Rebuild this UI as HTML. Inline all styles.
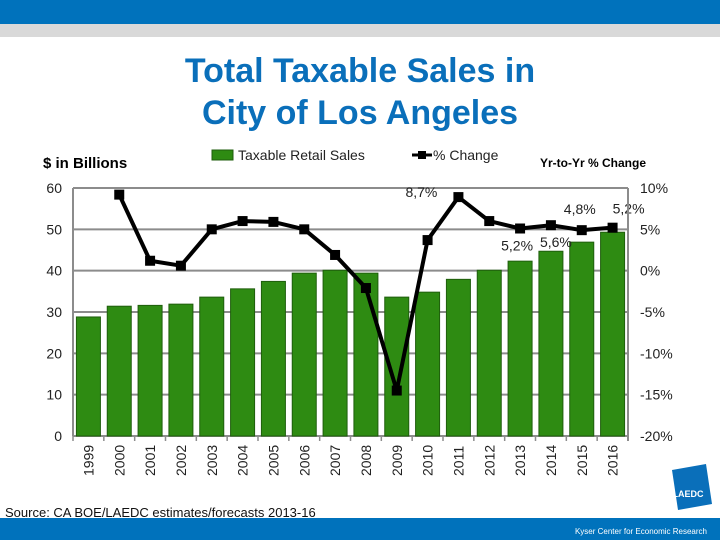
<!DOCTYPE html>
<html><head><meta charset="utf-8"><style>
html,body{margin:0;padding:0;background:#fff;width:720px;height:540px;overflow:hidden}
svg{display:block;font-family:"Liberation Sans",Arial,sans-serif}
</style></head><body>
<svg id="chart" width="720" height="540" viewBox="0 0 720 540" xmlns="http://www.w3.org/2000/svg">
<rect x="0" y="0" width="720" height="24" fill="#0072bc"/>
<rect x="0" y="24" width="720" height="13" fill="#d9d9d9"/>
<text x="360" y="82" text-anchor="middle" font-size="34" font-weight="bold" fill="#0a6fba">Total Taxable Sales in</text>
<text x="360" y="124" text-anchor="middle" font-size="34" font-weight="bold" fill="#0a6fba">City of Los Angeles</text>
<text x="43" y="168" font-size="15" font-weight="bold">$ in Billions</text>
<text x="540" y="167" font-size="12" font-weight="bold">Yr-to-Yr % Change</text>
<g>
<rect x="212" y="150" width="21" height="10" fill="#2e8b12" stroke="#1f5e0c"/>
<text x="238" y="160" font-size="14" fill="#222">Taxable Retail Sales</text>
<line x1="412" y1="155" x2="432" y2="155" stroke="#000" stroke-width="3"/>
<rect x="418" y="151" width="8" height="8" fill="#000"/>
<text x="433" y="160" font-size="14" fill="#222">% Change</text>
</g>
<g id="grid"></g><g id="bars"></g><g id="line"></g><g id="axes"></g>
<text x="5" y="517" font-size="13" fill="#111">Source: CA  BOE/LAEDC  estimates/forecasts  2013-16</text>
<g><polygon points="672,470 706,464 712,504 678,510" fill="#0a6fba"/><text x="688" y="497" text-anchor="middle" font-size="9" font-weight="bold" fill="#fff">LAEDC</text></g>
<rect x="0" y="518" width="720" height="22" fill="#0072bc"/>
<text x="707" y="534" text-anchor="end" font-size="8" fill="#fff">Kyser Center for Economic Research</text>
</svg>
<script>
const years=["1999","2000","2001","2002","2003","2004","2005","2006","2007","2008","2009","2010","2011","2012","2013","2014","2015","2016"];
const sales=[28.8,31.4,31.6,31.9,33.6,35.6,37.4,39.4,40.1,39.4,33.6,34.8,37.9,40.1,42.3,44.7,46.9,49.3];
const pctChange=[null,9.2,1.2,0.6,5.0,6.0,5.9,5.0,1.9,-2.1,-14.5,3.7,8.9,6.0,5.1,5.5,4.9,5.2];
const leftTicks=[0,10,20,30,40,50,60];
const rightTicks=[10,5,0,-5,-10,-15,-20];
const rightTickLabels=["10%","5%","0%","-5%","-10%","-15%","-20%"];
const pointLabels=[[12,"8,7%"],[14,"5,2%"],[15,"5,6%"],[16,"4,8%"],[17,"5,2%"]];
const NS="http://www.w3.org/2000/svg";
const X0=73,X1=628,Y0=436,Y1=188;
const band=(X1-X0)/years.length;
const xc=i=>X0+band*(i+0.5);
const yL=v=>Y0-(v/60)*(Y0-Y1);
const yR=v=>Y0-((v+20)/30)*(Y0-Y1);
function mk(t,a,p){const e=document.createElementNS(NS,t);for(const k in a)e.setAttribute(k,a[k]);p.appendChild(e);return e;}
const grid=document.getElementById('grid'),bars=document.getElementById('bars'),line=document.getElementById('line'),axes=document.getElementById('axes');
leftTicks.forEach(v=>{
 const g=mk('line',{x1:X0,x2:X1,y1:yL(v),y2:yL(v),stroke:'#8c8c8c','stroke-width':2},grid);
 
 
 const t=mk('text',{x:62,y:yL(v)+5,'text-anchor':'end','font-size':14,fill:'#222'},axes);
 t.textContent=v;
 
 
});
rightTicks.forEach((v,i)=>{
 const t=mk('text',{x:640,y:yR(v)+5,'font-size':14,fill:'#222'},axes);
 t.textContent=rightTickLabels[i];
 
 
});
years.forEach((y,i)=>{
 const w=24,h=Y0-yL(sales[i]);
 const b=mk('rect',{x:xc(i)-w/2,y:yL(sales[i]),width:w,height:h,fill:'#2e8b12',stroke:'#1f5e0c','stroke-width':1},bars);
 
 
 const tk=mk('line',{x1:X0+band*i,x2:X0+band*i,y1:Y0,y2:Y0+5,stroke:'#8c8c8c','stroke-width':1.5},axes);
 
 
 const t=mk('text',{transform:`translate(${xc(i)+5},476) rotate(-90)`,'font-size':14,fill:'#222'},axes);
 t.textContent=y;
 
 
});
const ax=mk('line',{x1:X0,x2:X0,y1:Y1,y2:Y0,stroke:'#8c8c8c','stroke-width':2},axes);


const ax2=mk('line',{x1:X1,x2:X1,y1:Y1,y2:Y0+5,stroke:'#8c8c8c','stroke-width':2},axes);


const pts=[];pctChange.forEach((v,i)=>{if(v!==null)pts.push([xc(i),yR(v)]);});
const pl=mk('polyline',{points:pts.map(p=>p.join(',')).join(' '),fill:'none',stroke:'#000','stroke-width':4,'stroke-linejoin':'round'},line);


pctChange.forEach((v,i)=>{if(v===null)return;
 const m=mk('rect',{x:xc(i)-5,y:yR(v)-5,width:10,height:10,fill:'#000'},line);
 
 
});
const lblOff={12:[-37,0],14:[-3,22],15:[5,22],16:[-2,-16],17:[16,-14]};
pointLabels.forEach(([i,s])=>{
 const o=lblOff[i];
 const t=mk('text',{x:xc(i)+o[0],y:yR(pctChange[i])+o[1],'text-anchor':'middle','font-size':14,fill:'#222'},line);
 t.textContent=s;
 
 
});
</script>
</body></html>
